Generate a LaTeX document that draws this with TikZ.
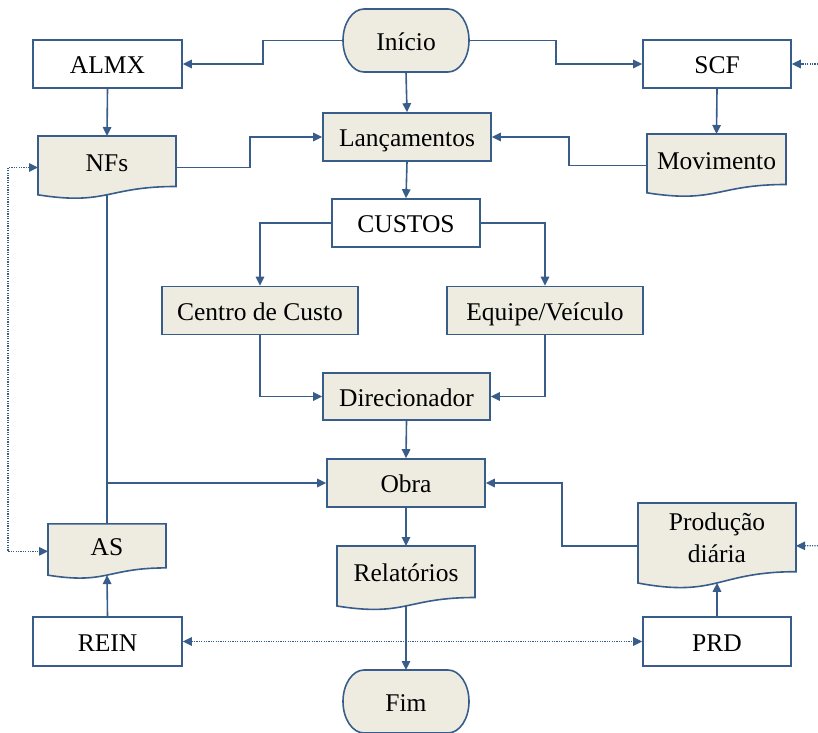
\documentclass[tikz,border=0pt]{standalone}
\usepackage{fontspec}
\setmainfont{Liberation Serif}
\usetikzlibrary{arrows.meta,calc,backgrounds}
\definecolor{edge}{HTML}{385D8A}
\definecolor{paper}{HTML}{EEECE1}

\tikzset{
  every node/.style={font=\fontsize{25.5}{32}\selectfont, inner sep=0pt, text=black,
                     text height=25pt, text depth=5.2pt},
  whitebox/.style={draw=edge, line width=1.6pt, fill=white},
  tanbox/.style={draw=edge, line width=1.6pt, fill=paper},
  shapeonly/.style={outer sep=0pt},
  outline/.style={draw=edge, line width=1.6pt, fill=paper},
  link/.style={draw=edge, line width=1.6pt},
  arr/.style={link, -{Triangle[length=9pt,width=8.5pt]}},
  dotlink/.style={draw=edge, line width=1.2pt, dash pattern=on 1.2pt off 1.2pt,
                  {Triangle[length=9pt,width=8.5pt]}-{Triangle[length=9pt,width=8.5pt]}},
  dotin/.style={draw=edge, line width=1.2pt, dash pattern=on 1.2pt off 1.2pt,
                -{Triangle[length=9pt,width=8.5pt]}},
}

% document symbol: rectangle part is the node, wavy bottom below it
\newcommand\docoutline[2]{%
  \filldraw[outline] (#1.north west) -- (#1.north east) -- (#1.south east)
    .. controls (#1.south) and ($(#1.south)+(0,{-0.381*#2})$)
    .. ($(#1.south west)+(0,{-0.165*#2})$) -- cycle;
  \coordinate (#1-b) at ($(#1.south)+(0,{-0.163*#2})$);
  \coordinate (#1-l) at ($(#1.west)+(0,{-0.1234*#2})$);
  \coordinate (#1-r) at ($(#1.east)+(0,{-0.1234*#2})$);
}

% terminator symbol: elliptic ends
\newcommand\termoutline[1]{%
  \path let \p1=(#1.north west), \p2=(#1.south east),
            \n1={(\x2-\x1)/6}, \n2={(\y1-\y2)/2} in
    [outline] (\x1+\n1,\y1) -- (\x2-\n1,\y1)
    arc[start angle=90,end angle=-90,x radius=\n1,y radius=\n2]
    -- (\x1+\n1,\y2)
    arc[start angle=270,end angle=90,x radius=\n1,y radius=\n2] -- cycle;
}

\begin{document}
\begin{tikzpicture}[x=1pt,y=1pt]
\useasboundingbox (0,0) rectangle (818,732);

% terminators
\node[shapeonly, minimum width=126, minimum height=63] (inicio) at (406,691.5) {Início};
\node[shapeonly, minimum width=126, minimum height=63] (fim) at (406,30.5) {Fim};

% processes
\node[whitebox, minimum width=149, minimum height=48] (almx) at (107.5,668) {ALMX};
\node[whitebox, minimum width=148, minimum height=48] (scf) at (717,668) {SCF};
\node[tanbox, minimum width=168, minimum height=48] (lanc) at (407,595) {Lançamentos};
\node[whitebox, minimum width=148, minimum height=48] (custos) at (406,509) {CUSTOS};
\node[tanbox, minimum width=196, minimum height=48] (centro) at (260,421.5) {Centro de Custo};
\node[tanbox, minimum width=196, minimum height=48] (equipe) at (545,421.5) {Equipe/Veículo};
\node[tanbox, minimum width=167, minimum height=47] (direc) at (406.5,335.5) {Direcionador};
\node[tanbox, minimum width=158, minimum height=48] (obra) at (406,249) {Obra};
\node[whitebox, minimum width=149, minimum height=49] (rein) at (107.5,90.5) {REIN};
\node[whitebox, minimum width=148, minimum height=49] (prd) at (717,90.5) {PRD};

% documents
\node[shapeonly, minimum width=138, minimum height=50.5] (nfs) at (107,570.75) {NFs};
\node[shapeonly, minimum width=139, minimum height=50.5] (mov) at (716.5,572.75) {Movimento};
\node[shapeonly, minimum width=118, minimum height=44] (as) at (107,186.1) {AS};
\node[shapeonly, minimum width=138, minimum height=51.5] (rel) at (406,160.25) {Relatórios};
\node[shapeonly, minimum width=158, minimum height=68.7, align=center,
      text height=, text depth=] (prod) at (717,194.65) {Produção\\diária};

\begin{scope}[on background layer]
  \termoutline{inicio}
  \termoutline{fim}
  \docoutline{nfs}{50.5}
  \docoutline{mov}{50.5}
  \docoutline{as}{44}
  \docoutline{rel}{51.5}
  \docoutline{prod}{68.7}
\end{scope}

% outside inputs
\coordinate (scfin) at (818,668);
\coordinate (prodin) at (818,186.2);

% solid connectors
\draw[arr] (inicio.west) -- ++(-80,0) |- (almx.east);
\draw[arr] (inicio.east) -- ++(87,0) |- (scf.west);
\draw[arr] (inicio.south) -- (lanc.north);
\draw[arr] (almx.south) -- (nfs.north);
\draw[arr] (nfs-r) -- ++(74,0) |- (lanc.west);
\draw[arr] (scf.south) -- (mov.north);
\draw[arr] (mov-l) -- ++(-78,0) |- (lanc.east);
\draw[arr] (lanc.south) -- (custos.north);
\draw[arr] (custos.west) -| (centro.north);
\draw[arr] (custos.east) -| (equipe.north);
\draw[arr] (centro.south) |- (direc.west);
\draw[arr] (equipe.south) |- (direc.east);
\draw[arr] (direc.south) -- (obra.north);
\draw[link] (nfs-b) -- (as.north);
\draw[arr] (as.north |- obra.west) -- (obra.west);
\draw[arr] (prod-l) -- ++(-76,0) |- (obra.east);
\draw[arr] (obra.south) -- (rel.north);
\draw[arr] (rel-b) -- (fim.north);
\draw[arr] (rein.north) -- (as-b);
\draw[arr] (prd.north) -- (prod-b);

% dotted connectors
\draw[dotlink] (nfs-l) -- ++(-30,0) |- (as-l);
\draw[dotlink] (rein.east) -- (prd.west);
\draw[dotin] (scfin) -- (scf.east);
\draw[dotin] (prodin) -- (prod-r);
\end{tikzpicture}
\end{document}
